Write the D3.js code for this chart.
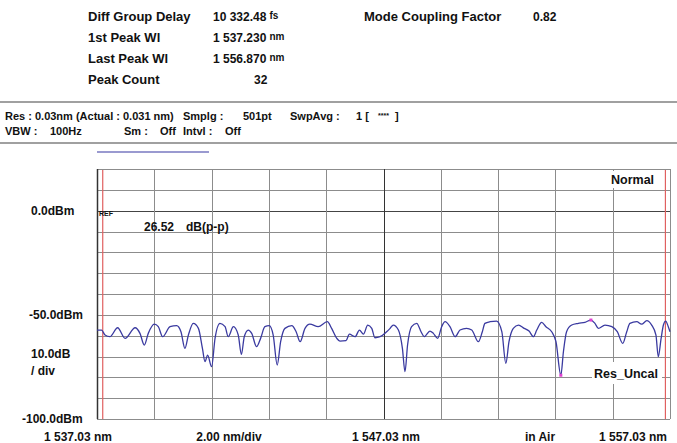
<!DOCTYPE html>
<html>
<head>
<meta charset="utf-8">
<script src="https://cdn.jsdelivr.net/npm/d3@7"></script>
<style>
body { margin: 0; background: #fff; }
svg text { font-family: "Liberation Sans", Arial, sans-serif; font-weight: bold; fill: #111; }
</style>
</head>
<body>
<script>
var W = 677, H = 443;

// header values
var infoLabels = ['Diff Group Delay', '1st Peak Wl', 'Last Peak Wl', 'Peak Count'];
var infoValues = ['10 332.48', '1 537.230', '1 556.870', '32'];
var infoUnits = ['fs', 'nm', 'nm', ''];
var firstPeak = 1537.23, lastPeak = 1556.87;

// axis labels
var yLabels = [{v: 0, t: '0.0dBm'}, {v: -50, t: '-50.0dBm'}, {v: -100, t: '-100.0dBm'}];
var xLabels = ['1 537.03 nm', '2.00 nm/div', '1 547.03 nm', 'in Air', '1 557.03 nm'];

// trace
var wl = [1537.03, 1537.19, 1537.31, 1537.48, 1537.75, 1538.01, 1538.36, 1538.53, 1538.68, 1538.82,
  1539.03, 1539.17, 1539.32, 1539.58, 1539.81, 1539.96, 1540.10, 1540.22, 1540.39, 1540.57,
  1540.71, 1540.80, 1540.89, 1541.03, 1541.15, 1541.32, 1541.50, 1541.61, 1541.79, 1541.96,
  1542.07, 1542.17, 1542.31, 1542.43, 1542.60, 1542.74, 1542.89, 1543.04, 1543.18, 1543.32,
  1543.44, 1543.59, 1543.83, 1543.98, 1544.12, 1544.29, 1544.46, 1544.75, 1545.07, 1545.22,
  1545.40, 1545.51, 1545.72, 1545.84, 1546.04, 1546.19, 1546.33, 1546.48, 1546.62, 1546.73,
  1546.91, 1547.14, 1547.26, 1547.37, 1547.55, 1547.69, 1547.78, 1547.87, 1548.01, 1548.19,
  1548.34, 1548.45, 1548.65, 1548.77, 1548.92, 1549.06, 1549.18, 1549.35, 1549.53, 1549.70,
  1549.93, 1550.11, 1550.34, 1550.48, 1550.57, 1550.75, 1550.98, 1551.16, 1551.30, 1551.41,
  1551.56, 1551.74, 1551.94, 1552.11, 1552.26, 1552.38, 1552.55, 1552.70, 1552.90, 1553.05,
  1553.22, 1553.31, 1553.42, 1553.60, 1553.83, 1554.06, 1554.27, 1554.41, 1554.53, 1554.76,
  1555.00, 1555.19, 1555.38, 1555.52, 1555.63, 1555.87, 1556.04, 1556.22, 1556.39, 1556.54,
  1556.62, 1556.72, 1556.80, 1556.88, 1556.97, 1557.03];
var pw = [-57.3, -57.3, -59.7, -60.5, -56.2, -61.3, -56.2, -58.9, -64.5, -58.9,
  -54.5, -55.7, -60.5, -55.7, -55.2, -58.1, -66.1, -59.7, -54.1, -56.5,
  -66.1, -72.5, -69.3, -74.9, -61.3, -54.1, -55.7, -60.5, -55.7, -59.7,
  -69.0, -60.5, -57.3, -58.9, -65.3, -61.3, -55.7, -55.2, -59.7, -74.1,
  -62.9, -56.5, -55.2, -58.1, -62.9, -56.5, -54.5, -55.7, -53.3, -56.5,
  -61.3, -62.6, -62.4, -59.3, -60.5, -57.3, -59.3, -54.9, -56.5, -61.0,
  -60.5, -58.1, -56.5, -54.9, -57.3, -66.1, -77.3, -64.5, -55.7, -54.1,
  -58.1, -60.5, -57.8, -58.9, -61.3, -55.7, -53.3, -55.7, -60.5, -57.3,
  -56.5, -57.3, -62.9, -58.1, -54.1, -53.3, -53.0, -58.1, -73.3, -62.9,
  -56.5, -54.9, -56.5, -57.8, -60.5, -57.3, -53.6, -55.7, -58.1, -62.9,
  -79.0, -67.7, -58.1, -54.9, -54.1, -53.6, -52.5, -54.1, -56.5, -54.9,
  -55.7, -58.1, -63.7, -58.1, -54.1, -53.3, -54.5, -52.8, -54.9, -59.7,
  -70.1, -61.3, -54.9, -53.0, -55.7, -58.1];

var trace = wl.map(function(d, i){ return {x: d, y: pw[i]}; });

var svg = d3.select('body').append('svg')
  .attr('width', W)
  .attr('height', H);

// header block
var info = svg.append('g');
infoLabels.forEach(function(t, i){
  var yy = 21 + i * 21;
  info.append('text').attr('x', 88).attr('y', yy).attr('font-size', 13).text(t);
  var v = info.append('text').attr('x', i == 3 ? 254 : 213).attr('y', yy).attr('font-size', 12);
  v.append('tspan').text(infoValues[i]);
  if (infoUnits[i]) v.append('tspan').attr('font-size', 10).attr('dy', -2).attr('dx', 3).text(infoUnits[i]);
});
info.append('text').attr('x', 364).attr('y', 21).attr('font-size', 13).text('Mode Coupling Factor');
info.append('text').attr('x', 533).attr('y', 21).attr('font-size', 12).text('0.82');

// separators
svg.append('rect').attr('x', 0).attr('y', 101).attr('width', W).attr('height', 2).attr('fill', '#a0a0a0');
svg.append('rect').attr('x', 0).attr('y', 142).attr('width', W).attr('height', 2).attr('fill', '#a0a0a0');
svg.append('rect').attr('x', 97).attr('y', 151).attr('width', 112).attr('height', 2).attr('fill', '#9a9ad0');

// settings rows
var row1 = [[5, 'Res : 0.03nm (Actual : 0.031 nm)'], [183, 'Smplg :'], [243, '501pt'], [290, 'SwpAvg :'], [356, '1 [']];
var row2 = [[5, 'VBW :'], [50, '100Hz'], [124, 'Sm :'], [160, 'Off'], [183, 'Intvl :'], [225, 'Off']];
row1.forEach(function(d){ svg.append('text').attr('x', d[0]).attr('y', 120).attr('font-size', 11).text(d[1]); });
row2.forEach(function(d){ svg.append('text').attr('x', d[0]).attr('y', 135).attr('font-size', 11).text(d[1]); });
svg.append('text').attr('x', 378).attr('y', 118).attr('font-size', 7).attr('font-weight', 'normal').text('****');
svg.append('text').attr('x', 395).attr('y', 120).attr('font-size', 11).text(']');

// plot
var x = d3.scaleLinear().domain([1537.03, 1557.03]).range([97, 670]);
var y = d3.scaleLinear().domain([-100, 20]).range([419, 169]);

var plot = svg.append('g');
var xGrid = d3.range(0, 11).map(function(i){ return 1537.03 + 2 * i; });
var yGrid = d3.range(0, 13).map(function(i){ return 20 - 10 * i; });

plot.selectAll('line.h').data(yGrid).enter().append('line')
  .attr('x1', x(1537.03)).attr('x2', x(1557.03))
  .attr('y1', function(d){ return Math.round(y(d)) + 0.5; })
  .attr('y2', function(d){ return Math.round(y(d)) + 0.5; })
  .attr('stroke', function(d){ return d == 0 ? '#444' : '#8c8c8c'; })
  .attr('stroke-width', 1);
plot.selectAll('line.v').data(xGrid).enter().append('line')
  .attr('y1', y(20)).attr('y2', y(-100))
  .attr('x1', function(d){ return Math.round(x(d)) + 0.5; })
  .attr('x2', function(d){ return Math.round(x(d)) + 0.5; })
  .attr('stroke', function(d, i){ return (i == 5 || i == 0) ? '#333' : '#8c8c8c'; })
  .attr('stroke-width', function(d, i){ return i == 0 ? 1.5 : 1; });

// peak markers
plot.selectAll('line.m').data([firstPeak, lastPeak]).enter().append('line')
  .attr('x1', function(d){ return x(d); }).attr('x2', function(d){ return x(d); })
  .attr('y1', y(20) + 1).attr('y2', y(-100))
  .attr('stroke', '#e06060').attr('stroke-width', 1.2);

// labels inside plot
plot.append('text').attr('x', 99).attr('y', 216).attr('font-size', 7).attr('font-weight', 'normal').attr('fill', '#555').text('REF');
plot.append('text').attr('x', 144).attr('y', 231).attr('font-size', 12).text('26.52');
plot.append('text').attr('x', 186).attr('y', 231).attr('font-size', 12).text('dB(p-p)');
plot.append('rect').attr('x', 609).attr('y', 171).attr('width', 50).attr('height', 17).attr('fill', '#fff');
plot.append('text').attr('x', 611).attr('y', 184).attr('font-size', 12.5).text('Normal');
plot.append('rect').attr('x', 592).attr('y', 362).attr('width', 70).attr('height', 22).attr('fill', '#fff');
plot.append('text').attr('x', 594).attr('y', 378).attr('font-size', 12.5).text('Res_Uncal');

// trace
var line = d3.line()
  .x(function(d){ return x(d.x); })
  .y(function(d){ return y(d.y); })
  .curve(d3.curveMonotoneX);
plot.append('path').datum(trace)
  .attr('d', line)
  .attr('fill', 'none')
  .attr('stroke', '#3a3aa0')
  .attr('stroke-width', 1.3);

var hi = d3.greatest(trace, function(d){ return d.y; });
var lo = d3.least(trace, function(d){ return d.y; });
plot.selectAll('rect.pk').data([hi, lo]).enter().append('rect')
  .attr('x', function(d){ return x(d.x) - 1.5; })
  .attr('y', function(d){ return y(d.y) - 1.5; })
  .attr('width', 3).attr('height', 3)
  .attr('fill', '#e040d0');

// y labels
svg.selectAll('text.yl').data(yLabels).enter().append('text')
  .attr('x', function(d){ return d.v == -100 ? 22 : (d.v == 0 ? 31 : 29); })
  .attr('y', function(d){ return y(d.v) + 4; })
  .attr('font-size', 12)
  .text(function(d){ return d.t; });
svg.append('text').attr('x', 31).attr('y', 358).attr('font-size', 12).text('10.0dB');
svg.append('text').attr('x', 31).attr('y', 375).attr('font-size', 12).text('/ div');

// x labels
var xPos = [78, 229, 386, 540, 633];
svg.selectAll('text.xl').data(xLabels).enter().append('text')
  .attr('x', function(d, i){ return xPos[i]; })
  .attr('y', 441)
  .attr('text-anchor', 'middle')
  .attr('font-size', 12)
  .text(function(d){ return d; });
</script>
</body>
</html>
